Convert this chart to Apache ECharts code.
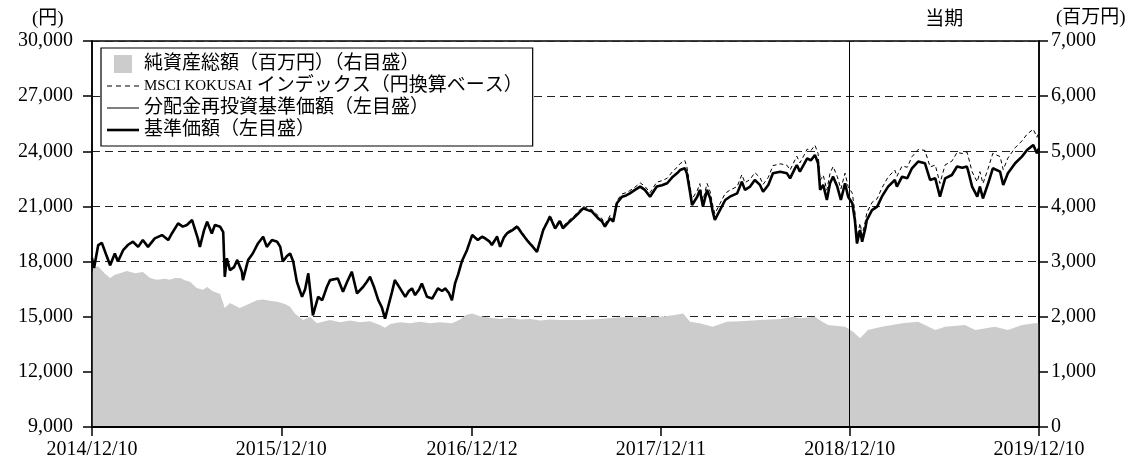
<!DOCTYPE html>
<html><head><meta charset="utf-8">
<script src="https://cdn.jsdelivr.net/npm/echarts@6/dist/echarts.min.js"></script>
<style>html,body{margin:0;padding:0;background:#fff}#c{width:1139px;height:462px}</style>
</head><body><div id="c"></div>
<script>
// x positions are days since 2014/12/10
const tickDays = [0, 365, 733, 1097, 1461, 1826];
const tickLabels = ['2014/12/10','2015/12/10','2016/12/12','2017/12/11','2018/12/10','2019/12/10'];
const periodStartDay = 1461;
const periodEndDay = 1826;

const navDays = [
0,4,12,19,27,35,44,50,60,69,
79,89,98,108,121,135,147,154,166,175,
183,193,204,208,216,222,231,237,247,253,
256,260,266,274,280,289,291,301,310,320,
330,337,347,357,363,368,376,382,388,395,
405,411,417,426,436,444,453,459,474,484,
492,501,511,523,530,536,544,552,559,565,
571,578,584,594,604,611,617,623,631,636,
646,656,667,675,681,688,694,700,706,713,
723,733,739,744,752,758,766,771,781,787,
794,800,810,820,829,841,850,858,870,877,
883,893,902,908,918,928,937,947,956,964,
976,983,989,999,1005,1012,1022,1030,1037,1047,
1057,1066,1076,1089,1099,1109,1120,1128,1134,1143,
1147,1153,1157,1167,1172,1178,1186,1192,1197,1201,
1211,1221,1230,1244,1253,1259,1269,1278,1288,1294,
1304,1313,1327,1340,1346,1356,1359,1365,1373,1379,
1386,1394,1400,1404,1410,1417,1423,1429,1437,1444,
1452,1458,1466,1471,1475,1481,1485,1491,1494,1504,
1514,1523,1535,1548,1552,1562,1572,1581,1593,1606,
1616,1626,1635,1645,1658,1668,1678,1687,1689,1697,
1707,1712,1718,1728,1737,1751,1757,1766,1780,1793,
1803,1815,1822,1826];

const nav = [
18200,17650,18900,19020,18400,17800,18440,18000,18620,18900,
19080,18800,19170,18800,19260,19440,19170,19530,20075,19900,
19990,20260,19260,18800,19700,20165,19530,19990,19900,19600,
17170,18170,17535,17700,18080,17445,16990,18080,18440,18985,
19350,18800,19170,19080,18800,18000,18300,18440,18000,16900,
16080,16500,17350,15080,16080,15900,16630,16990,17080,16355,
16900,17445,16265,16630,16900,17170,16600,15900,15500,14900,
15540,16300,16990,16540,16080,16400,16540,16175,16500,16810,
16080,15990,16540,16400,16540,16300,15900,16810,17300,18000,
18620,19440,19300,19170,19350,19260,19100,18900,19350,18800,
19300,19530,19700,19900,19530,19080,18800,18530,19710,20100,
20440,19800,20200,19810,20100,20350,20600,20900,20800,20720,
20350,20200,19900,20350,20170,21170,21530,21600,21710,21900,
22080,21900,21530,22080,22150,22260,22620,22800,22980,23075,
22800,21800,21080,21530,21900,20990,21900,21440,20700,20260,
20810,21350,21530,21710,22350,21900,22080,22440,22170,21800,
22170,22800,22890,22800,22530,23100,23250,22890,23300,23620,
23500,23800,23350,21900,22170,21350,22260,22620,22080,21350,
22260,21530,21170,20260,18990,19720,19080,19800,20260,20800,
20990,21530,22080,22440,22080,22620,22530,23075,23440,23350,
22440,22530,21530,22530,22710,23170,23100,23170,22980,22080,
21530,22080,21440,22260,23075,22890,22170,22800,23350,23710,
24070,24345,23890,24160];

// no distributions were paid, so the reinvested NAV equals the NAV
const navReinvested = nav.slice();

const msci = [
18220,17670,18920,19040,18420,17820,18460,18020,18640,18920,
19100,18820,19190,18820,19280,19460,19190,19550,20095,19920,
20010,20280,19280,18820,19720,20185,19550,20010,19920,19620,
17190,18190,17555,17720,18100,17465,17010,18100,18460,19005,
19370,18820,19190,19100,18820,18020,18320,18460,18020,16920,
16100,16520,17370,15100,16100,15920,16650,17010,17100,16375,
16920,17465,16285,16650,16920,17190,16620,15920,15520,14920,
15560,16320,17010,16560,16100,16420,16560,16195,16520,16830,
16100,16010,16560,16420,16560,16320,15920,16830,17330,18040,
18670,19490,19350,19220,19400,19310,19150,18950,19400,18850,
19370,19600,19770,19970,19600,19150,18870,18600,19780,20170,
20540,19900,20300,19910,20200,20450,20700,21000,20900,20820,
20500,20350,20050,20500,20320,21320,21680,21750,21860,22050,
22280,22100,21750,22320,22400,22530,22920,23120,23330,23500,
23150,22120,21400,21860,22240,21330,22250,21790,21050,20600,
21160,21710,21890,22080,22730,22290,22470,22840,22570,22200,
22580,23220,23320,23240,22980,23560,23730,23370,23790,24120,
24030,24330,23880,22420,22700,21880,22800,23170,22630,21950,
22810,22080,21720,20700,19350,20080,19440,20180,20650,21220,
21420,22000,22600,22980,22640,23200,23130,23700,24100,24050,
23150,23250,22250,23260,23460,23940,23880,23960,23780,22880,
22340,22890,22250,23070,23890,23710,23000,23630,24190,24560,
24930,25200,24760,25030];

const assetDays = [
0,4,12,15,25,35,44,54,67,83,
98,112,125,141,150,160,170,179,189,202,
214,222,233,247,253,256,266,276,285,299,
318,330,343,357,372,382,391,407,420,434,
445,459,478,498,517,536,555,565,575,594,
613,632,652,671,694,710,721,733,748,767,
787,806,825,845,864,883,902,941,980,1018,
1057,1095,1124,1140,1153,1172,1197,1224,1250,1288,
1327,1352,1365,1394,1408,1419,1452,1467,1481,1496,
1523,1562,1593,1626,1645,1683,1703,1741,1766,1793,
1818,1826];

const assets = [
2800,2900,2910,2880,2780,2700,2760,2790,2830,2790,
2810,2700,2670,2690,2670,2700,2700,2660,2635,2520,
2490,2540,2460,2410,2250,2160,2250,2200,2160,2215,
2300,2310,2290,2270,2230,2180,2060,1940,2000,1880,
1910,1940,1900,1930,1900,1920,1850,1800,1870,1900,
1880,1910,1880,1900,1880,1950,2030,2060,2010,1980,
1960,1980,1950,1960,1930,1950,1940,1940,1960,1990,
1990,2000,2030,2060,1910,1880,1820,1910,1920,1940,
1960,2000,1970,2000,1910,1850,1820,1730,1610,1760,
1820,1880,1910,1760,1820,1850,1760,1820,1760,1850,
1880,1880];

const NAME_ASSETS = '純資産総額（百万円）（右目盛）';
const NAME_MSCI = 'MSCI KOKUSAI インデックス（円換算ベース）';
const NAME_REINV = '分配金再投資基準価額（左目盛）';
const NAME_NAV = '基準価額（左目盛）';

const FONT = "'Liberation Serif','Noto Sans CJK JP',serif";
const pair = (days, vals) => days.map((d, i) => [d, vals[i]]);

const chart = echarts.init(document.getElementById('c'), null, {renderer: 'canvas'});
chart.setOption({
  animation: false,
  backgroundColor: '#fff',
  grid: {left: 92, right: 100, top: 41, bottom: 35, show: true, borderColor: '#000', borderWidth: 1.5, backgroundColor: 'transparent'},
  graphic: [
    {type: 'text', left: 32, top: 10, style: {text: '(円)', font: "19px 'Liberation Serif','Noto Sans CJK JP'", fill: '#000'}},
    {type: 'text', left: 1056, top: 9, style: {text: '(百万円)', font: "19px 'Liberation Serif','Noto Sans CJK JP'", fill: '#000'}}
  ],
  legend: {
    orient: 'vertical', left: 101, top: 48,
    padding: [6, 10, 6, 6], itemGap: 2, itemWidth: 32, itemHeight: 18,
    symbolKeepAspect: true,
    backgroundColor: '#fff', borderColor: '#000', borderWidth: 1.2,
    selectedMode: false,
    textStyle: {fontSize: 19, lineHeight: 20, color: '#000', fontFamily: FONT,
      rich: {m: {fontSize: 15, lineHeight: 20, color: '#000', fontFamily: "'Liberation Serif',serif"}}},
    formatter: name => name === NAME_MSCI ? '{m|MSCI KOKUSAI} インデックス（円換算ベース）' : name,
    data: [
      {name: NAME_ASSETS, icon: 'path://M0,0L1,0L1,1L0,1Z', itemStyle: {color: '#cccccc'}},
      {name: NAME_MSCI, icon: 'path://M0,0H5V1H0ZM9,0H14V1H9ZM18,0H23V1H18ZM27,0H32V1H27Z', itemStyle: {color: '#000'}},
      {name: NAME_REINV, icon: 'path://M0,0H32V1H0Z', itemStyle: {color: '#000'}},
      {name: NAME_NAV, icon: 'path://M0,0H32V2.6H0Z', itemStyle: {color: '#000'}}
    ]
  },
  xAxis: {
    type: 'value', min: 0, max: 1826, z: 3,
    axisLine: {show: true, lineStyle: {color: '#000', width: 2}},
    axisTick: {show: true, length: 9, lineStyle: {color: '#000', width: 1.5}, customValues: tickDays},
    axisLabel: {customValues: tickDays, formatter: v => tickLabels[tickDays.indexOf(v)],
      fontSize: 20, fontFamily: FONT, color: '#000', margin: 13},
    splitLine: {show: false}
  },
  yAxis: [
    {type: 'value', position: 'left', min: 9000, max: 30000, interval: 3000, z: 3,
      axisLine: {show: true, lineStyle: {color: '#000', width: 1.5}},
      axisTick: {show: true, length: 9, lineStyle: {color: '#000', width: 1.5}},
      axisLabel: {formatter: v => v.toLocaleString('en-US'), fontSize: 20, fontFamily: FONT, color: '#000', margin: 19},
      splitLine: {show: false}},
    {type: 'value', position: 'right', min: 0, max: 7000, interval: 1000, z: 3,
      axisLine: {show: true, lineStyle: {color: '#000', width: 1.5}},
      axisTick: {show: true, length: 9, lineStyle: {color: '#000', width: 1.5}},
      axisLabel: {formatter: v => v.toLocaleString('en-US'), fontSize: 20, fontFamily: FONT, color: '#000', margin: 12},
      splitLine: {show: false}},
    {type: 'value', min: 9000, max: 30000, interval: 3000, z: 0,
      axisLine: {show: false}, axisTick: {show: false}, axisLabel: {show: false},
      splitLine: {show: true, lineStyle: {color: '#222', width: 1.2, type: [8, 5]}}}
  ],
  series: [
    {name: NAME_ASSETS, type: 'line', yAxisIndex: 1, data: pair(assetDays, assets),
      symbol: 'none', showSymbol: false, z: 1,
      lineStyle: {width: 0, color: '#cccccc'}, itemStyle: {color: '#cccccc'},
      areaStyle: {color: '#cccccc', opacity: 1},
      markArea: {silent: true, itemStyle: {color: 'rgba(0,0,0,0)'},
        label: {show: true, position: 'top', distance: 11, formatter: '当期', color: '#000', fontSize: 19, fontFamily: FONT},
        data: [[{xAxis: periodStartDay}, {xAxis: periodEndDay}]]}},
    {name: NAME_MSCI, type: 'line', yAxisIndex: 0, data: pair(navDays, msci),
      symbol: 'none', showSymbol: false, z: 2,
      lineStyle: {color: '#000', width: 1, type: [4, 3]}, itemStyle: {color: '#000'}},
    {name: NAME_REINV, type: 'line', yAxisIndex: 0, data: pair(navDays, navReinvested),
      symbol: 'none', showSymbol: false, z: 2,
      lineStyle: {color: '#000', width: 1}, itemStyle: {color: '#000'}},
    {name: NAME_NAV, type: 'line', yAxisIndex: 0, data: pair(navDays, nav),
      symbol: 'none', showSymbol: false, z: 2,
      lineStyle: {color: '#000', width: 2.6}, itemStyle: {color: '#000'},
      markLine: {silent: true, symbol: ['none', 'none'], label: {show: false},
        lineStyle: {color: '#000', width: 1, type: 'solid'},
        data: [{xAxis: periodStartDay}]}}
  ]
});
</script>
</body></html>
